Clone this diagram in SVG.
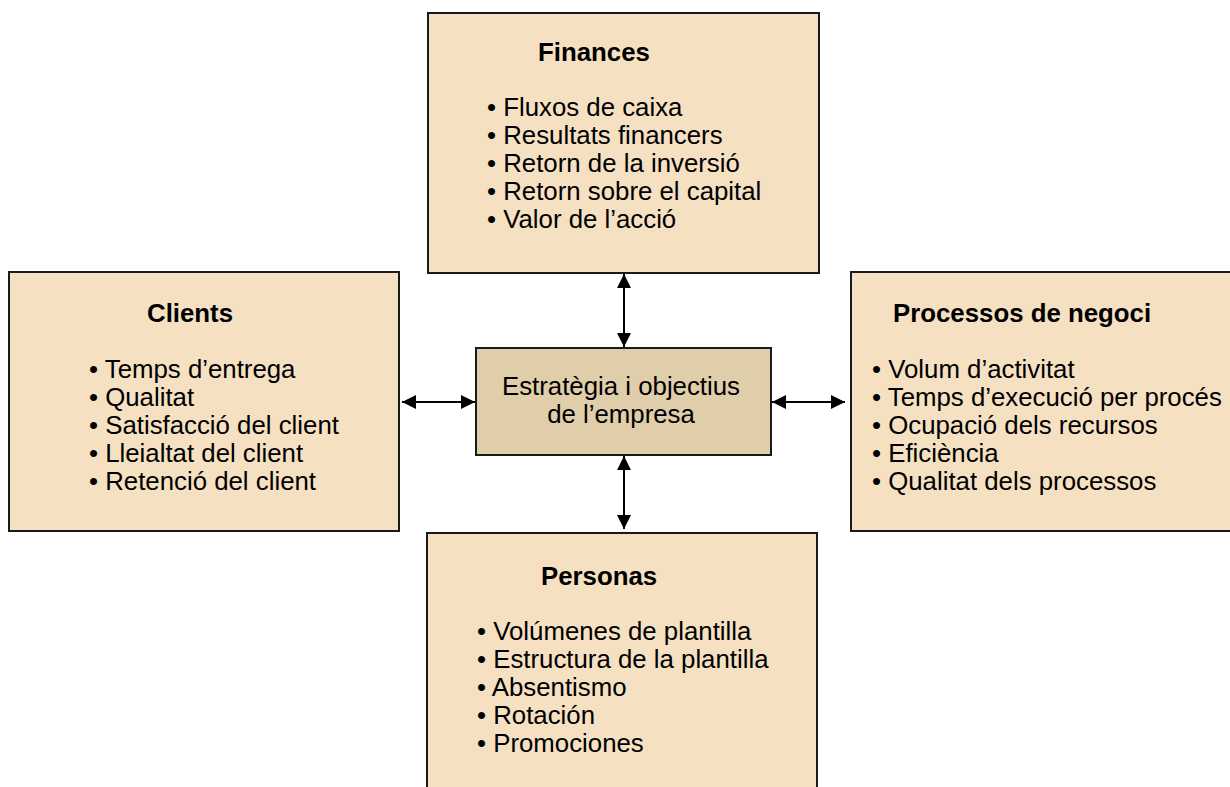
<svg xmlns="http://www.w3.org/2000/svg" width="1230" height="787" viewBox="0 0 1230 787">
  <style>
    .box { fill: #f5e1c2; stroke: #1a1a1a; stroke-width: 2; }
    .core { fill: #e0cdaa; stroke: #1a1a1a; stroke-width: 2; }
    .title { font-family: "Liberation Sans", Arial, sans-serif; font-size: 25.8px; font-weight: bold; fill: #000; }
    .item { font-family: "Liberation Sans", Arial, sans-serif; font-size: 25.8px; fill: #000; }
    .link { stroke: #000; stroke-width: 2; fill: none; marker-start: url(#head); marker-end: url(#head); }
  </style>
  <defs>
    <marker id="head" viewBox="0 0 10 10" refX="10" refY="5" markerWidth="14" markerHeight="14" markerUnits="userSpaceOnUse" orient="auto-start-reverse">
      <path d="M0,0 L10,5 L0,10 Z" fill="#000"/>
    </marker>
  </defs>

  <rect x="0" y="0" width="1230" height="787" fill="#fff"/>

  <g id="connectors">
    <line class="link" x1="624" y1="274" x2="624" y2="347"/>
    <line class="link" x1="624" y1="456" x2="624" y2="529"/>
    <line class="link" x1="402" y1="402" x2="475" y2="402"/>
    <line class="link" x1="772" y1="402" x2="845" y2="402"/>
  </g>

  <g id="finances">
    <rect class="box" x="428" y="13" width="391" height="260"/>
    <text class="title" x="538" y="61">Finances</text>
    <text class="item" x="487" y="116">• Fluxos de caixa</text>
    <text class="item" x="487" y="144">• Resultats financers</text>
    <text class="item" x="487" y="172">• Retorn de la inversió</text>
    <text class="item" x="487" y="200">• Retorn sobre el capital</text>
    <text class="item" x="487" y="228">• Valor de l’acció</text>
  </g>

  <g id="clients">
    <rect class="box" x="9" y="272" width="390" height="259"/>
    <text class="title" x="147" y="322">Clients</text>
    <text class="item" x="89" y="378">• Temps d’entrega</text>
    <text class="item" x="89" y="406">• Qualitat</text>
    <text class="item" x="89" y="434">• Satisfacció del client</text>
    <text class="item" x="89" y="462">• Lleialtat del client</text>
    <text class="item" x="89" y="490">• Retenció del client</text>
  </g>

  <g id="processos">
    <rect class="box" x="851" y="272" width="390" height="259"/>
    <text class="title" x="893" y="322">Processos de negoci</text>
    <text class="item" x="872" y="378">• Volum d’activitat</text>
    <text class="item" x="872" y="406">• Temps d’execució per procés</text>
    <text class="item" x="872" y="434">• Ocupació dels recursos</text>
    <text class="item" x="872" y="462">• Eficiència</text>
    <text class="item" x="872" y="490">• Qualitat dels processos</text>
  </g>

  <g id="personas">
    <rect class="box" x="427" y="533" width="390" height="270"/>
    <text class="title" x="541" y="585">Personas</text>
    <text class="item" x="477" y="640">• Volúmenes de plantilla</text>
    <text class="item" x="477" y="668">• Estructura de la plantilla</text>
    <text class="item" x="477" y="696">• Absentismo</text>
    <text class="item" x="477" y="724">• Rotación</text>
    <text class="item" x="477" y="752">• Promociones</text>
  </g>

  <g id="estrategia">
    <rect class="core" x="476" y="348" width="295" height="107"/>
    <text class="item" x="621" y="395" text-anchor="middle">Estratègia i objectius</text>
    <text class="item" x="621" y="423" text-anchor="middle">de l’empresa</text>
  </g>
</svg>
